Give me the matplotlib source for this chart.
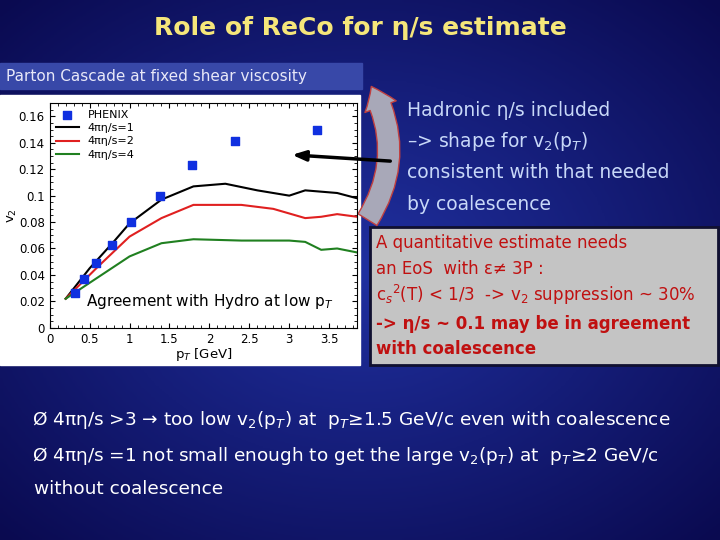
import numpy as np
import matplotlib.pyplot as plt
from matplotlib.patches import Rectangle, FancyArrowPatch

# dados
phenix_pt = [0.32, 0.43, 0.58, 0.78, 1.02, 1.38, 1.78, 2.32, 3.35]
phenix_v2 = [0.026, 0.037, 0.049, 0.063, 0.080, 0.100, 0.123, 0.141, 0.150]

pt_1 = [0.2, 0.5, 0.8, 1.0, 1.4, 1.8, 2.2, 2.6, 3.0, 3.2, 3.6, 3.85]
v2_1 = [0.022, 0.045, 0.065, 0.079, 0.097, 0.107, 0.109, 0.104, 0.100, 0.104, 0.102, 0.098]
pt_2 = [0.2, 0.6, 1.0, 1.4, 1.8, 2.4, 2.8, 3.2, 3.4, 3.6, 3.85]
v2_2 = [0.022, 0.046, 0.069, 0.083, 0.093, 0.093, 0.090, 0.083, 0.084, 0.086, 0.084]
pt_4 = [0.2, 0.6, 1.0, 1.4, 1.8, 2.4, 3.0, 3.2, 3.4, 3.6, 3.85]
v2_4 = [0.022, 0.038, 0.054, 0.064, 0.067, 0.066, 0.066, 0.065, 0.059, 0.060, 0.057]

fig = plt.figure(figsize=(7.2, 5.4), dpi=100)

# fundo azul em degrade
fundo = fig.add_axes([0, 0, 1, 1])
yy, xx = np.mgrid[0:1:200j, 0:1:200j]
r = np.sqrt((xx - 0.5)**2 + (yy - 0.5)**2)
fundo.imshow(r, cmap=plt.cm.colors.LinearSegmentedColormap.from_list('bg', ['#2030a0', '#0a0a50']),
             extent=[0, 720, 540, 0], aspect='auto')
fundo.set_xlim(0, 720)
fundo.set_ylim(540, 0)
fundo.axis('off')

fundo.text(360, 28, 'Role of ReCo for η/s estimate', color='#f5e67a', fontsize=18,
           ha='center', va='center', fontweight='bold')
fundo.add_patch(Rectangle((0, 63), 362, 26, color='#3848a8'))
fundo.text(6, 76, 'Parton Cascade at fixed shear viscosity', color='#e8e8f8', fontsize=11, va='center')
fundo.add_patch(Rectangle((0, 95), 360, 270, color='white'))

azul = '#c8d8f8'
for i, s in enumerate(['Hadronic η/s included', '–> shape for v$_2$(p$_T$)',
                       'consistent with that needed', 'by coalescence']):
    fundo.text(407, 110 + i * 31.5, s, color=azul, fontsize=13.5, va='center')

fundo.add_patch(Rectangle((370, 227), 348, 138, facecolor='#c4c4c4', edgecolor='#101030', lw=2))
vermelho = '#c01010'
linhas = ['A quantitative estimate needs', 'an EoS  with ε≠ 3P :',
          'c$_s$$^2$(T) < 1/3  -> v$_2$ suppression ~ 30%']
for i, s in enumerate(linhas):
    fundo.text(376, 243 + i * 26, s, color=vermelho, fontsize=12, va='center')
fundo.text(376, 324, '-> η/s ~ 0.1 may be in agreement', color=vermelho, fontsize=12,
           va='center', fontweight='bold')
fundo.text(376, 349, 'with coalescence', color=vermelho, fontsize=12, va='center', fontweight='bold')

fundo.add_patch(FancyArrowPatch((366, 222), (370, 84), connectionstyle='arc3,rad=0.3',
                                arrowstyle='simple,head_width=24,head_length=16,tail_width=16',
                                facecolor='#a8a8b8', edgecolor='#c04040', lw=1))

fundo.text(32, 420, 'Ø 4πη/s >3 → too low v$_2$(p$_T$) at  p$_T$≥1.5 GeV/c even with coalescence',
           color='white', fontsize=13.3, va='center')
fundo.text(32, 456, 'Ø 4πη/s =1 not small enough to get the large v$_2$(p$_T$) at  p$_T$≥2 GeV/c',
           color='white', fontsize=13.3, va='center')
fundo.text(34, 489, 'without coalescence', color='white', fontsize=13.3, va='center')

# grafico v2
ax = fig.add_axes([0.069, 0.393, 0.427, 0.416])
ax.plot(pt_1, v2_1, color='black', lw=1.5, label='4πη/s=1')
ax.plot(pt_2, v2_2, color='#e02020', lw=1.5, label='4πη/s=2')
ax.plot(pt_4, v2_4, color='#208020', lw=1.5, label='4πη/s=4')
ax.scatter(phenix_pt, phenix_v2, marker='s', s=40, color='#1030e0', label='PHENIX', zorder=3)
h, l = ax.get_legend_handles_labels()
ax.legend(h[3:] + h[:3], l[3:] + l[:3], loc='upper left', frameon=False, fontsize=8,
          handlelength=2, borderaxespad=0.2, labelspacing=0.3)
ax.set_xlim(0, 3.85)
ax.set_ylim(0, 0.17)
ax.set_xticks([0, 0.5, 1, 1.5, 2, 2.5, 3, 3.5])
ax.set_xticklabels(['0', '0.5', '1', '1.5', '2', '2.5', '3', '3.5'])
ax.set_yticks([0, 0.02, 0.04, 0.06, 0.08, 0.1, 0.12, 0.14, 0.16])
ax.set_yticklabels(['0', '0.02', '0.04', '0.06', '0.08', '0.1', '0.12', '0.14', '0.16'])
ax.minorticks_on()
ax.tick_params(labelsize=8.5, direction='in', which='both', top=True, right=True)
ax.set_xlabel('p$_T$ [GeV]', fontsize=9.5, labelpad=0)
ax.set_ylabel('v$_2$', fontsize=9.5, labelpad=0)
ax.text(0.45, 0.02, 'Agreement with Hydro at low p$_T$', fontsize=11, va='center')
ax.annotate('', xy=(3.0, 0.131), xytext=(4.3, 0.126), annotation_clip=False,
            arrowprops=dict(arrowstyle='-|>,head_width=0.3,head_length=0.8', color='black', lw=2.5))

fig.savefig('out.png', dpi=100)
